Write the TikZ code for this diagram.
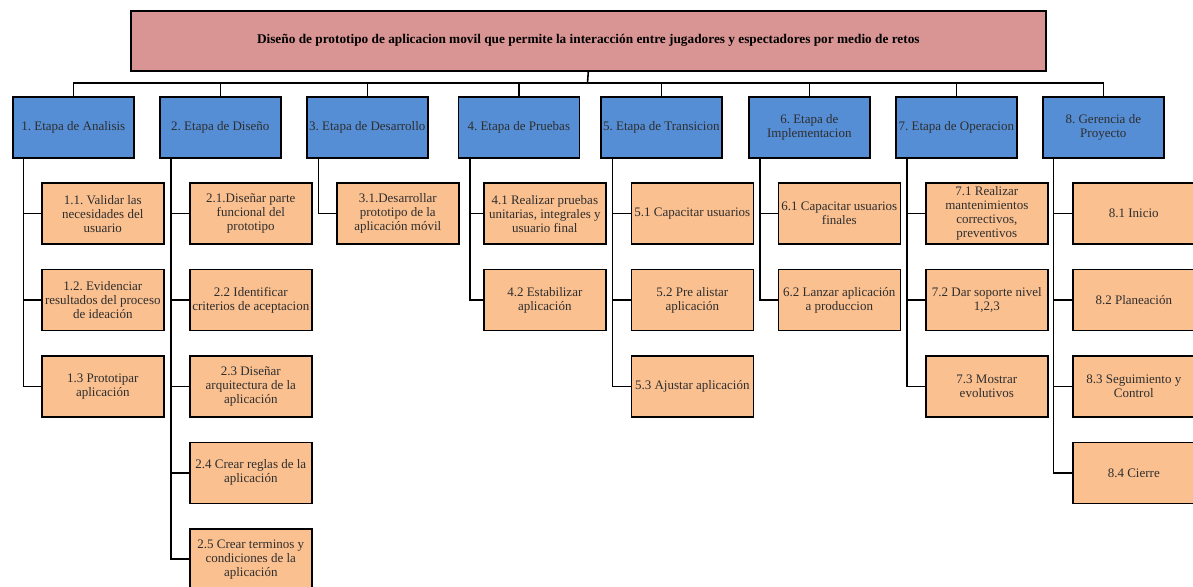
\documentclass[tikz,border=0pt]{standalone}
\usepackage{fontspec}
\setmainfont{Liberation Serif}
\frenchspacing
\definecolor{titlefill}{HTML}{D99594}
\definecolor{stagefill}{HTML}{558ED5}
\definecolor{taskfill}{HTML}{FAC090}
\definecolor{inkgray}{HTML}{2E2E2E}
\tikzset{
  boxbase/.style={draw=black, line width=1.6pt, rectangle, inner sep=0pt,
    align=center, text=inkgray, anchor=north west},
  titlebox/.style={boxbase, fill=titlefill, minimum width=915pt, minimum height=60pt,
    font=\fontsize{13.3}{15}\selectfont\bfseries, text=black},
  stagebox/.style={boxbase, fill=stagefill, minimum width=121pt, minimum height=61pt,
    font=\fontsize{13}{14.2}\selectfont},
  taskbox/.style={boxbase, fill=taskfill, minimum width=122pt, minimum height=61pt,
    font=\fontsize{13}{14}\selectfont},
  wire/.style={draw=black, line width=1.6pt}
}
\begin{document}
\begin{tikzpicture}[x=1pt, y=-1pt]
\useasboundingbox (0,0) rectangle (1193,586);
\clip (0,0) rectangle (1193,586);

% project title
\node[titlebox] (top) at (130,10) {Diseño de prototipo de aplicacion movil que permite la interacción entre jugadores y espectadores por medio de retos};

% stages
\node[stagebox] (b1) at (12,96)    {1. Etapa de Analisis};
\node[stagebox] (b2) at (159,96)   {2. Etapa de Diseño};
\node[stagebox] (b3) at (306,96)   {3. Etapa de Desarrollo};
\node[stagebox] (b4) at (457.5,96) {4. Etapa de Pruebas};
\node[stagebox] (b5) at (600,96)   {5. Etapa de Transicion};
\node[stagebox] (b6) at (748,96)   {6. Etapa de\\Implementacion};
\node[stagebox] (b7) at (895,96)   {7. Etapa de Operacion};
\node[stagebox] (b8) at (1042,96)  {8. Gerencia de\\Proyecto};

% bus from title to the stages
\coordinate (bus) at (587.5,83);
\draw[wire] (top.south) -- (bus);
\draw[wire] (b1.north) |- (bus) -| (b8.north);
\foreach \s in {b2,b3,b4,b5,b6,b7}
  \draw[wire] (\s.north) -- (\s.north |- bus);

% tasks (rows every 86.4px)
\def\rA{182.3}\def\rB{268.7}\def\rC{355.1}\def\rD{441.5}\def\rE{527.9}

\node[taskbox] (c11) at (41,\rA) {1.1. Validar las\\necesidades del\\usuario};
\node[taskbox] (c12) at (41,\rB) {1.2. Evidenciar\\resultados del proceso\\de ideación};
\node[taskbox] (c13) at (41,\rC) {1.3 Prototipar\\aplicación};

\node[taskbox] (c21) at (189,\rA) {2.1.Diseñar parte\\funcional del\\prototipo};
\node[taskbox] (c22) at (189,\rB) {2.2 Identificar\\criterios de aceptacion};
\node[taskbox] (c23) at (189,\rC) {2.3 Diseñar\\arquitectura de la\\aplicación};
\node[taskbox] (c24) at (189,\rD) {2.4 Crear reglas de la\\aplicación};
\node[taskbox] (c25) at (189,\rE) {2.5 Crear terminos y\\condiciones de la\\aplicación};

\node[taskbox] (c31) at (336,\rA) {3.1.Desarrollar\\prototipo de la\\aplicación móvil};

\node[taskbox] (c41) at (483,\rA) {4.1 Realizar pruebas\\unitarias, integrales y\\usuario final};
\node[taskbox] (c42) at (483,\rB) {4.2 Estabilizar\\aplicación};

\node[taskbox] (c51) at (630.5,\rA) {5.1 Capacitar usuarios};
\node[taskbox] (c52) at (630.5,\rB) {5.2 Pre alistar\\aplicación};
\node[taskbox] (c53) at (630.5,\rC) {5.3 Ajustar aplicación};

\node[taskbox] (c61) at (777.5,\rA) {6.1 Capacitar usuarios\\finales};
\node[taskbox] (c62) at (777.5,\rB) {6.2 Lanzar aplicación\\a produccion};

\node[taskbox] (c71) at (925,\rA) {7.1 Realizar\\mantenimientos\\correctivos,\\preventivos};
\node[taskbox] (c72) at (925,\rB) {7.2 Dar soporte nivel\\1,2,3};
\node[taskbox] (c73) at (925,\rC) {7.3 Mostrar\\evolutivos};

\node[taskbox] (c81) at (1072,\rA) {8.1 Inicio};
\node[taskbox] (c82) at (1072,\rB) {8.2 Planeación};
\node[taskbox] (c83) at (1072,\rC) {8.3 Seguimiento y\\Control};
\node[taskbox] (c84) at (1072,\rD) {8.4 Cierre};

% stage-to-task connectors
\foreach \s/\off/\kids in {b1/11.5/{c11,c12,c13}, b2/12/{c21,c22,c23,c24,c25},
    b3/12.5/{c31}, b4/12.5/{c41,c42}, b5/12.3/{c51,c52,c53},
    b6/12/{c61,c62}, b7/11.7/{c71,c72,c73}, b8/11.3/{c81,c82,c83,c84}}
  \foreach \k in \kids
    \draw[wire] ([xshift=\off pt]\s.south west) |- (\k.west);
\end{tikzpicture}
\end{document}
